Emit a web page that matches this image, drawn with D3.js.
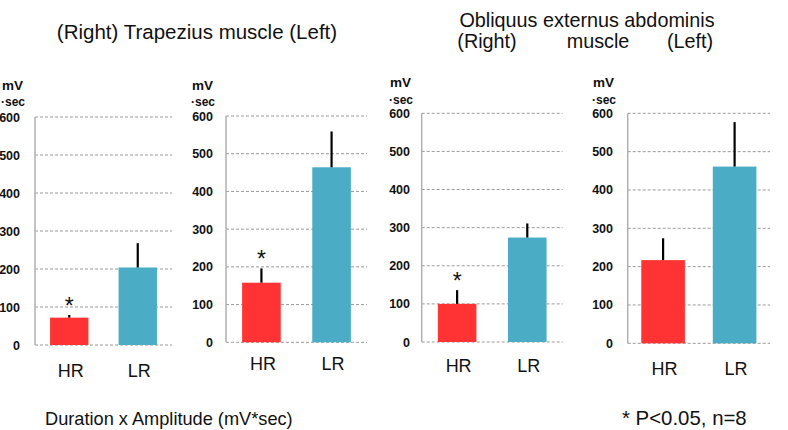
<!DOCTYPE html>
<html>
<head>
<meta charset="utf-8">
<script src="https://cdn.jsdelivr.net/npm/d3@7"></script>
<style>
  html, body { margin: 0; padding: 0; background: #fff; }
  svg { display: block; }
</style>
</head>
<body>
<svg id="chart" width="788" height="430"></svg>
<script>
// ---- data ----
const groups = ["HR", "LR"];
const yTicks = [0, 100, 200, 300, 400, 500, 600];
const trapRightMean = [72, 204];
const trapRightSD = [7, 64];
const trapLeftMean = [158, 464];
const trapLeftSD = [38, 95];
const oblRightMean = [100, 274];
const oblRightSD = [36, 37];
const oblLeftMean = [217, 461];
const oblLeftSD = [57, 116];
const significant = [true, true, true, false];
const titleTrap = "(Right) Trapezius muscle (Left)";
const titleObl1 = "Obliquus externus abdominis";
const titleObl2 = ["(Right)", "muscle", "(Left)"];
const footLeft = "Duration x Amplitude (mV*sec)";
const footRight = "* P<0.05, n=8";

const seriesMeans = [trapRightMean, trapLeftMean, oblRightMean, oblLeftMean];
const seriesSD = [trapRightSD, trapLeftSD, oblRightSD, oblLeftSD];

// ---- layout (positions only) ----
const panels = [
  {x0: 35,    x1: 172,   y0: 345,   y1: 117,   labRight: 20,  unitX: 2,   mvY: 85,  secY: 102, catY: 371, pi: 0.44, po: 0.22},
  {x0: 226,   x1: 367,   y0: 342.3, y1: 116,   labRight: 213, unitX: 192, mvY: 85,  secY: 102, catY: 364, pi: 0.45, po: 0.23},
  {x0: 421.7, x1: 562.7, y0: 342,   y1: 113.3, labRight: 410, unitX: 390, mvY: 82,  secY: 100, catY: 366, pi: 0.45, po: 0.23},
  {x0: 627.7, x1: 770,   y0: 343.3, y1: 113.3, labRight: 613, unitX: 593, mvY: 82,  secY: 99.5, catY: 369, pi: 0.39, po: 0.19}
];
const colors = ["#ff3333", "#4bacc6"];

const svg = d3.select("#chart");
const sans = "'Liberation Sans', Arial, Helvetica, sans-serif";
const narrow = "'Liberation Sans Narrow', 'Arial Narrow', 'Liberation Sans', sans-serif";

panels.forEach((p, i) => {
  const x = d3.scaleBand().domain(groups).range([p.x0, p.x1]).paddingInner(p.pi).paddingOuter(p.po);
  const y = d3.scaleLinear().domain([0, 600]).range([p.y0, p.y1]);
  const g = svg.append("g");

  // gridlines
  g.selectAll("line.grid").data(yTicks).join("line")
    .attr("x1", p.x0).attr("x2", p.x1)
    .attr("y1", d => y(d)).attr("y2", d => y(d))
    .attr("stroke", "#9a9a9a").attr("stroke-width", 1)
    .attr("stroke-dasharray", "3,2");

  // y axis line
  g.append("line")
    .attr("x1", p.x0).attr("x2", p.x0)
    .attr("y1", y(0)).attr("y2", y(600))
    .attr("stroke", "#b0b0b0").attr("stroke-width", 1.5);

  // tick labels
  g.selectAll("text.tick").data(yTicks).join("text")
    .attr("x", p.labRight).attr("y", d => y(d))
    .attr("dy", "0.36em")
    .attr("text-anchor", "end")
    .attr("font-family", sans).attr("font-weight", "bold").attr("font-size", 12.5)
    .attr("fill", "#111")
    .text(d => d);

  // unit labels
  g.append("text").attr("x", p.unitX).attr("y", p.mvY).attr("dy", "0.36em")
    .attr("font-family", sans).attr("font-weight", "bold").attr("font-size", 13.5)
    .attr("fill", "#111").text("mV");
  g.append("text").attr("x", p.unitX - 1).attr("y", p.secY).attr("dy", "0.36em")
    .attr("font-family", sans).attr("font-weight", "bold").attr("font-size", 12)
    .attr("fill", "#111").text("\u00B7sec");

  const means = seriesMeans[i], sds = seriesSD[i];
  // bars
  g.selectAll("rect.bar").data(groups).join("rect")
    .attr("x", d => x(d)).attr("width", x.bandwidth())
    .attr("y", (d, j) => y(means[j]))
    .attr("height", (d, j) => y(0) - y(means[j]))
    .attr("fill", (d, j) => colors[j]);

  // error bars
  g.selectAll("line.err").data(groups).join("line")
    .attr("x1", d => x(d) + x.bandwidth() / 2).attr("x2", d => x(d) + x.bandwidth() / 2)
    .attr("y1", (d, j) => y(means[j]))
    .attr("y2", (d, j) => y(means[j] + sds[j]))
    .attr("stroke", "#000").attr("stroke-width", 2.2);

  // significance star
  if (significant[i]) {
    g.append("text")
      .attr("x", x(groups[0]) + x.bandwidth() / 2)
      .attr("y", y(means[0] + sds[0]) - 1)
      .attr("text-anchor", "middle")
      .attr("font-family", sans).attr("font-size", 23).attr("fill", "#111")
      .text("*");
  }

  // category labels
  g.selectAll("text.cat").data(groups).join("text")
    .attr("x", d => x(d) + x.bandwidth() / 2 + 1.5)
    .attr("y", p.catY).attr("dy", "0.36em")
    .attr("text-anchor", "middle")
    .attr("font-family", narrow).attr("font-size", 18).attr("fill", "#111")
    .text(d => d);
});

// titles
svg.append("text").attr("x", 197).attr("y", 39)
  .attr("text-anchor", "middle").attr("font-family", sans).attr("font-size", 20.5)
  .attr("fill", "#111").text(titleTrap);
svg.append("text").attr("x", 587).attr("y", 27)
  .attr("text-anchor", "middle").attr("font-family", sans).attr("font-size", 19.8)
  .attr("fill", "#111").text(titleObl1);
const line2X = [487, 598, 690];
svg.selectAll("text.t2").data(titleObl2).join("text")
  .attr("x", (d, k) => line2X[k]).attr("y", 48)
  .attr("text-anchor", "middle").attr("font-family", sans).attr("font-size", 19.8)
  .attr("fill", "#111").text(d => d);

// footers
svg.append("text").attr("x", 45).attr("y", 425)
  .attr("font-family", sans).attr("font-size", 18.2).attr("fill", "#111")
  .text(footLeft);
svg.append("text").attr("x", 622).attr("y", 425)
  .attr("font-family", sans).attr("font-size", 20.4).attr("fill", "#111")
  .text(footRight);
</script>
</body>
</html>
